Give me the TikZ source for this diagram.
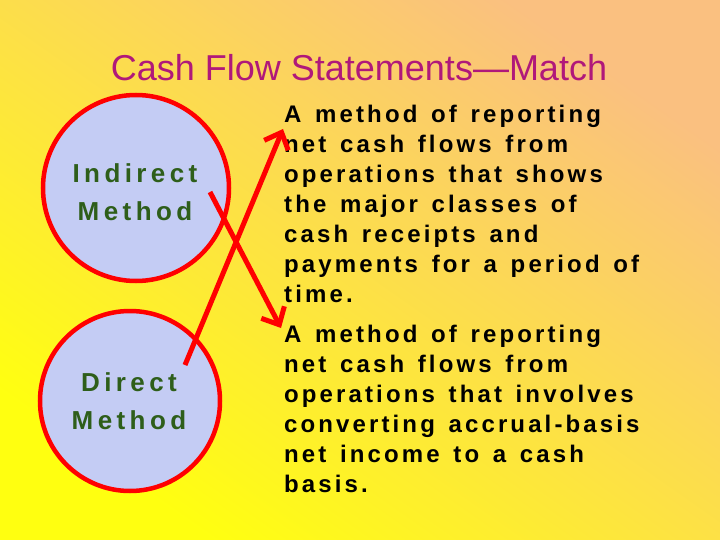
\documentclass[tikz,border=0pt]{standalone}
\usepackage{fontspec}
\setmainfont{Liberation Sans}
\usetikzlibrary{arrows.meta}
\definecolor{bgY}{HTML}{FFFF10}
\definecolor{bgO}{HTML}{FAC080}
\definecolor{circ}{HTML}{C4CCF4}
\definecolor{ttl}{HTML}{B0187A}
\definecolor{grn}{HTML}{2E5E1A}
\newfontfamily\deffont[LetterSpace=13,WordSpace=1.4]{Liberation Sans}
\newfontfamily\lblfont[LetterSpace=17]{Liberation Sans}
\tikzset{
  bubble/.style={circle,draw=red,line width=4.5pt,fill=circ},
  lbl/.style={font=\lblfont\fontsize{26}{38}\selectfont\bfseries,text=grn,align=center},
  defn/.style={font=\deffont\fontsize{24}{30}\selectfont\bfseries,align=left,anchor=north west,inner sep=0pt},
  conn/.style={draw=red,line width=5pt,-{Straight Barb[length=14pt,width=26pt,line width=5pt]}}
}
\begin{document}
\begin{tikzpicture}[x=1pt,y=-1pt]
\useasboundingbox (0,0) rectangle (720,540);
\shade[top color=bgO,bottom color=bgY,shading angle=-35] (0,0) rectangle (720,540);
\node[font=\fontsize{36}{40}\selectfont,text=ttl] (title) at (359,68) {Cash Flow Statements—Match};
\node[bubble,minimum size=186pt] (c1) at (136,188) {};
\node[bubble,minimum size=180pt] (c2) at (130,401) {};
\node[lbl] (l1) at (135,192) {Indirect\\Method};
\node[lbl] (l2) at (129,401) {Direct\\Method};
\node[defn] (d1) at (284,105) {A method of reporting\\net cash flows from\\operations that shows\\the major classes of\\cash receipts and\\payments for a period of\\time.};
\node[defn] (d2) at (284,325) {A method of reporting\\net cash flows from\\operations that involves\\converting accrual-basis\\net income to a cash\\basis.};
\coordinate (s1) at (210,192);
\coordinate (e1) at (281,328);
\coordinate (s2) at (185,365);
\coordinate (e2) at (283,129);
\draw[conn] (s1) -- (e1);
\draw[conn] (s2) -- (e2);
\end{tikzpicture}
\end{document}
